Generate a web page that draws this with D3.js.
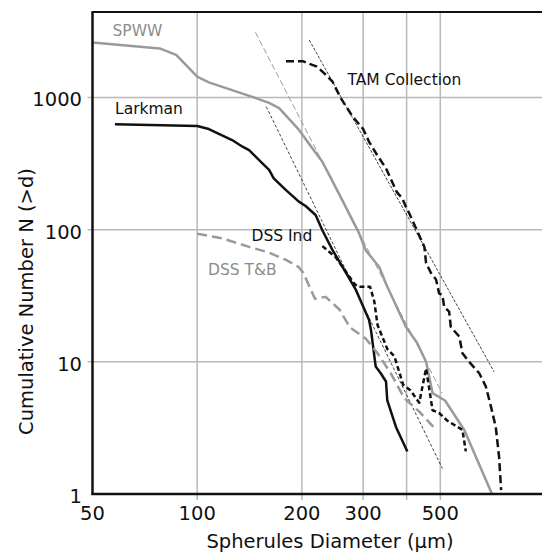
<!DOCTYPE html>
<html>
<head>
<meta charset="utf-8">
<script src="https://cdn.jsdelivr.net/npm/d3@7/dist/d3.min.js"></script>
<style>
  html, body { margin: 0; padding: 0; background: #fff; }
  svg { display: block; font-family: "DejaVu Sans", Verdana, sans-serif; }
</style>
</head>
<body>
<svg id="chart" width="542" height="555"></svg>
<script>
// ---- data (diameter in µm, cumulative number N(>d)) ----
const spww = [[50,2600],[78,2350],[87,2100],[100,1440],[108,1300],[144,1010],[161,910],[172,830],[196,570],[214,414],[229,326],[244,237],[261,168],[292,94],[305,70],[334,52],[349,39],[398,18.4],[429,13.9],[455,10],[475,5.8],[516,5.1],[586,3.05],[704,1]];
const larkman = [[58,626],[100,608],[108,577],[126,476],[135,424],[141,400],[154,317],[161,283],[166,244],[180,199],[196,163],[205,151],[219,129],[229,99],[245,70],[262,52],[286,35],[312,20.7],[316,17.4],[326,9.2],[337,8.2],[349,7.1],[352,5.1],[373,3.2],[402,2.1]];
const tam = [[180,1880],[201,1880],[221,1710],[232,1520],[245,1315],[258,1000],[280,714],[300,577],[312,462],[329,367],[349,291],[375,192],[389,172],[398,149],[407,133],[450,74],[455,56],[470,47],[486,42],[496,33],[507,32],[513,26],[530,24],[536,18.4],[567,15.5],[579,11.6],[605,10],[647,8.2],[676,6.5],[699,4.6],[722,3.2],[738,1.9],[748,1.07]];
const dssInd = [[229,75],[250,62],[283,39],[289,37],[314,37],[323,28.6],[330,19],[352,12.5],[369,11],[391,6.7],[410,6.1],[435,4.9],[455,8.9],[475,4.3],[496,4.1],[523,3.6],[579,3.05],[592,2.1]];
const dssTB = [[100,93],[118,86],[141,74],[161,67],[180,59],[196,52],[202,47],[218,30],[234,31],[256,25],[275,18.2],[305,15],[330,11.6],[360,8.2],[394,5.3],[435,4.2],[484,3.1]];
const fitGray = [[147,3110],[506,5.8]];
const fitBlack = [[158,851],[507,1.56]];
const fitTam = [[210,2717],[714,8.4]];

const xTickValues = [50,100,200,300,500];
const xGridValues = [100,200,300,400,500];
const yTickValues = [1,10,100,1000];
const xDomain = [50,1000];
const yDomain = [1,4430];

(function () {
// ---- layout ----
const svg = d3.select("#chart");
const mLeft = 92.5, mRight = 545, mTop = 12, mBottom = 494;
const x = d3.scaleLog().domain(xDomain).range([mLeft, mRight]);
const y = d3.scaleLog().domain(yDomain).range([mBottom, mTop]);

const GRID = "#b9b9b9", GRAY = "#9a9a9a", BLACK = "#111";

// gridlines
svg.append("g").selectAll("line").data(xGridValues).join("line")
  .attr("x1", d => x(d)).attr("x2", d => x(d))
  .attr("y1", mTop).attr("y2", mBottom + 6)
  .attr("stroke", GRID).attr("stroke-width", 1.5);
svg.append("g").selectAll("line").data(yTickValues.filter(d => d > 1)).join("line")
  .attr("x1", mLeft - 5).attr("x2", 542)
  .attr("y1", d => y(d)).attr("y2", d => y(d))
  .attr("stroke", GRID).attr("stroke-width", 1.5);

// tick labels
svg.append("g").selectAll("text").data(xTickValues).join("text")
  .attr("x", d => x(d)).attr("y", 519.5)
  .attr("text-anchor", "middle").attr("font-size", 19.5).attr("fill", "#111")
  .text(d => d);
svg.append("g").selectAll("text").data(yTickValues).join("text")
  .attr("x", 82).attr("y", d => y(d) + 2)
  .attr("dy", "0.36em")
  .attr("text-anchor", "end").attr("font-size", 19.5).attr("fill", "#111")
  .text(d => d);

// axis titles
svg.append("text").attr("x", 330).attr("y", 548)
  .attr("text-anchor", "middle").attr("font-size", 19.5).attr("fill", "#111")
  .text("Spherules Diameter (μm)");
svg.append("text").attr("transform", "translate(33,301.5) rotate(-90)")
  .attr("text-anchor", "middle").attr("font-size", 19.5).attr("fill", "#111")
  .text("Cumulative Number N (>d)");

const line = d3.line().x(d => x(d[0])).y(d => y(d[1]));

// fit lines
svg.append("path").datum(fitGray).attr("d", line)
  .attr("fill", "none").attr("stroke", GRAY).attr("stroke-width", 1).attr("stroke-dasharray", "6,3");
svg.append("path").datum(fitBlack).attr("d", line)
  .attr("fill", "none").attr("stroke", BLACK).attr("stroke-width", 0.8).attr("stroke-dasharray", "3,2");
svg.append("path").datum(fitTam).attr("d", line)
  .attr("fill", "none").attr("stroke", BLACK).attr("stroke-width", 0.8).attr("stroke-dasharray", "3,1.5");

// series
const series = [
  {data: spww, color: GRAY, dash: null, w: 2.5},
  {data: larkman, color: BLACK, dash: null, w: 2.5},
  {data: dssTB, color: GRAY, dash: "10,5", w: 2.5},
  {data: dssInd, color: BLACK, dash: "5,3", w: 2.5},
  {data: tam, color: BLACK, dash: "8,4", w: 2.5}
];
series.forEach(s => {
  svg.append("path").datum(s.data).attr("d", line)
    .attr("fill", "none").attr("stroke", s.color).attr("stroke-width", s.w)
    .attr("stroke-linejoin", "round")
    .attr("stroke-dasharray", s.dash);
});

// axes frame
svg.append("line").attr("x1", mLeft).attr("x2", mLeft).attr("y1", mTop).attr("y2", mBottom + 1)
  .attr("stroke", BLACK).attr("stroke-width", 2.5);
svg.append("line").attr("x1", mLeft - 1).attr("x2", 542).attr("y1", mBottom).attr("y2", mBottom)
  .attr("stroke", BLACK).attr("stroke-width", 2.5);
svg.append("line").attr("x1", mLeft - 1).attr("x2", 542).attr("y1", mTop).attr("y2", mTop)
  .attr("stroke", BLACK).attr("stroke-width", 2);

// series labels
const labels = [
  {t: "SPWW", x: 112.5, y: 36, c: "#8c8c8c"},
  {t: "Larkman", x: 115, y: 114, c: "#111"},
  {t: "TAM Collection", x: 347.5, y: 85, c: "#111"},
  {t: "DSS Ind", x: 251.5, y: 240.5, c: "#111"},
  {t: "DSS T&B", x: 208, y: 275, c: "#8c8c8c"}
];
svg.append("g").selectAll("text").data(labels).join("text")
  .attr("x", d => d.x).attr("y", d => d.y)
  .attr("font-size", 15.5).attr("fill", d => d.c)
  .text(d => d.t);
})();
</script>
</body>
</html>
